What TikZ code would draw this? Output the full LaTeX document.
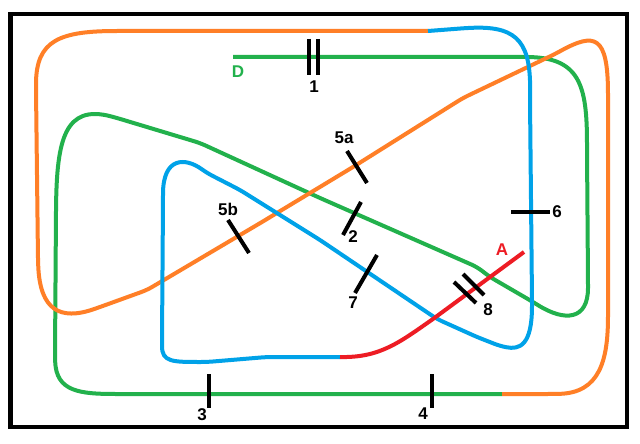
\documentclass[tikz,border=0pt]{standalone}
\usepackage{fontspec}
\setmainfont{Liberation Sans}
\definecolor{pgreen}{HTML}{22B14C}
\definecolor{porange}{HTML}{FF7F27}
\definecolor{pblue}{HTML}{00A2E8}
\definecolor{pred}{HTML}{ED1C24}
\begin{document}
\begin{tikzpicture}[x=1pt,y=-1pt,
  curve/.style={line width=4pt,line join=round,rounded corners=6pt},
  tick/.style={line width=4pt,black},
  lbl/.style={inner sep=0pt,font=\fontsize{17}{17}\selectfont\bfseries}]
\useasboundingbox (0,0) rectangle (640,444);
\fill[white] (0,0) rectangle (640,444);
\draw[line width=4.5pt] (10.5,14) rectangle (627,427);
% green part
\coordinate (D0) at (233,57);
\coordinate (G1) at (502,394);
\draw[curve,pgreen] (D0) -- (520,57) .. controls (580,57) and (587,85) .. (587,150)
  -- (588,282) .. controls (588,320) and (565,322) .. (533,302)
  -- (490,277) -- (477,267) -- (320,198) -- (200,143) -- (117,118)
  .. controls (65,104) and (57,140) .. (56,210) -- (55,355)
  .. controls (56,392) and (80,394) .. (123,394) -- (G1);
% orange part
\coordinate (O1) at (428,31);
\draw[curve,porange] (G1) -- (553,394) .. controls (600,393) and (608,360) .. (608,310)
  -- (608,100) .. controls (608,35) and (595,32) .. (555,54)
  -- (463,98) -- (353,167) -- (262,222) -- (147,290) -- (100,307)
  .. controls (60,321) and (40,310) .. (38,260) -- (36,90)
  .. controls (36,40) and (60,31) .. (123,31) -- (O1);
% blue part
\coordinate (B1) at (340,357);
\draw[curve,pblue] (O1) -- (467,28) .. controls (520,26) and (531,45) .. (530,100)
  -- (532,300) .. controls (532,345) and (520,350) .. (500,346)
  -- (477,337) -- (437,319) -- (320,240) -- (240,190) -- (207,173)
  .. controls (185,157) and (163,157) .. (163,200) -- (162,340)
  .. controls (162,362) and (172,362) .. (207,362) -- (267,357) -- (B1);
% red part
\coordinate (A0) at (524,252);
\draw[line width=4pt,pred] (B1) .. controls (380,358) and (400,342) .. (433,319) -- (A0);
% ticks
\draw[tick] (309,39) -- (309,75);
\draw[tick] (318,39) -- (318,75);
\draw[tick] (361,202) -- (343,235);
\draw[tick] (209,374) -- (209,408);
\draw[tick] (432,374) -- (432,408);
\draw[tick] (347,151) -- (367,183);
\draw[tick] (228,220) -- (249,253);
\draw[tick] (511,212) -- (550,212);
\draw[tick] (377,255) -- (355,293);
\draw[tick] (454,282) -- (476,303);
\draw[tick] (463,274) -- (484,295);
% labels
\node[lbl,text=pgreen] (lD) at (238,72) {D};
\node[lbl,text=pred] (lA) at (502,250) {A};
\node[lbl] (l1) at (314,87) {1};
\node[lbl] (l2) at (353,237) {2};
\node[lbl] (l3) at (202,415) {3};
\node[lbl] (l4) at (423,414) {4};
\node[lbl] (l5a) at (344,138) {5a};
\node[lbl] (l5b) at (228,209) {5b};
\node[lbl] (l6) at (557,212) {6};
\node[lbl] (l7) at (353,303) {7};
\node[lbl] (l8) at (488,310) {8};
\end{tikzpicture}
\end{document}
